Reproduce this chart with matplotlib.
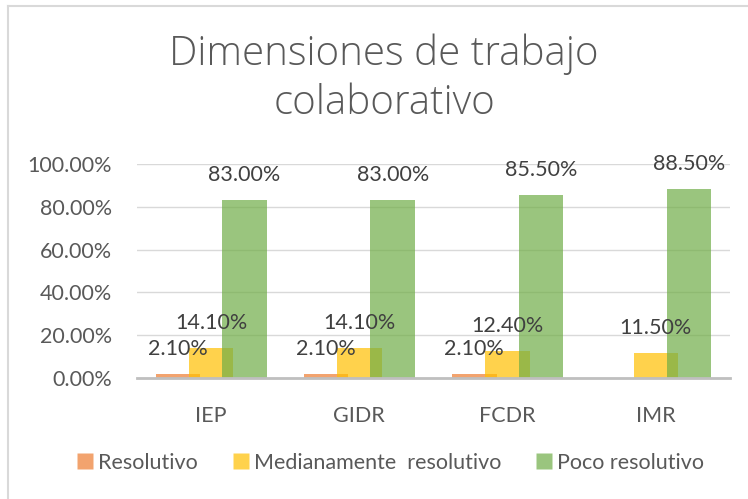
import numpy as np
import matplotlib
matplotlib.use("Agg")
import matplotlib.pyplot as plt
from matplotlib.lines import Line2D

plt.rcParams['font.family'] = ['Lato', 'DejaVu Sans']

categories = ["IEP", "GIDR", "FCDR", "IMR"]
series_names = ["Resolutivo", "Medianamente  resolutivo", "Poco resolutivo"]
resolutivo = [0.021, 0.021, 0.021, np.nan]
medianamente = [0.141, 0.141, 0.124, 0.115]
poco = [0.83, 0.83, 0.855, 0.885]
colors = ["#ED7D31", "#FFC000", "#70AD47"]
yticks = [0.0, 0.2, 0.4, 0.6, 0.8, 1.0]

fig = plt.figure(figsize=(7.48, 4.99), dpi=100)
ax = fig.add_axes([137/748, 1-378/499, (730-137)/748, (378-164)/499])

x = np.arange(len(categories))
width = 0.30
offsets = [-0.225, 0.0, 0.225]
txtc = "#404040"
for vals, off, c in zip([resolutivo, medianamente, poco], offsets, colors):
    ax.bar(x + off, vals, width, color=c, alpha=0.7, zorder=3, linewidth=0)
    for xi, v in zip(x + off, vals):
        if np.isnan(v):
            continue
        ax.annotate(f"{v*100:.2f}%", (xi, v), xytext=(0, 18), textcoords="offset points",
                    ha="center", va="center", fontsize=15.5, color=txtc, zorder=5)

ax.set_xlim(-0.5, len(categories) - 0.5)
ax.set_ylim(0, 1.0)
ax.set_yticks(yticks)
ax.set_yticklabels([f"{t*100:.2f}%" for t in yticks])
ax.set_xticks(x)
ax.set_xticklabels(categories)
ax.tick_params(axis='both', length=0, labelsize=15.5, colors="#595959")
ax.tick_params(axis='x', pad=20)
ax.tick_params(axis='y', pad=18)
ax.grid(axis='y', color="#D9D9D9", linewidth=1.0, zorder=0)
ax.set_axisbelow(True)
for s in ['top', 'right', 'left']:
    ax.spines[s].set_visible(False)
ax.spines['bottom'].set_color("#BFBFBF")
ax.spines['bottom'].set_linewidth(2.0)
ax.spines['bottom'].set_zorder(4)

title_font = dict(family=["Open Sans", "Lato", "DejaVu Sans"], fontweight="light",
                  fontsize=29, color="#595959", ha="center", va="center")
fig.text(384/748, 1-54/499, "Dimensiones de trabajo", **title_font)
fig.text(384/748, 1-104/499, "colaborativo", **title_font)

handles = [Line2D([0], [0], marker='s', linestyle='none', markersize=11,
                  markerfacecolor=c, markeredgecolor='none', alpha=0.7) for c in colors]
fig.legend(handles, series_names, loc="center", bbox_to_anchor=(389/748, 1-463/499),
           ncol=3, frameon=False, fontsize=15.5, labelcolor="#595959",
           handletextpad=0.1, columnspacing=1.5, handlelength=1.0)

# chart border (left and top edges visible)
fig.add_artist(Line2D([8/748, 8/748], [0, 1-6/499], transform=fig.transFigure,
                      color="#D9D9D9", linewidth=1.5))
fig.add_artist(Line2D([8/748, 1], [1-6/499, 1-6/499], transform=fig.transFigure,
                      color="#D9D9D9", linewidth=1.5))

fig.savefig("out.png", dpi=100)
